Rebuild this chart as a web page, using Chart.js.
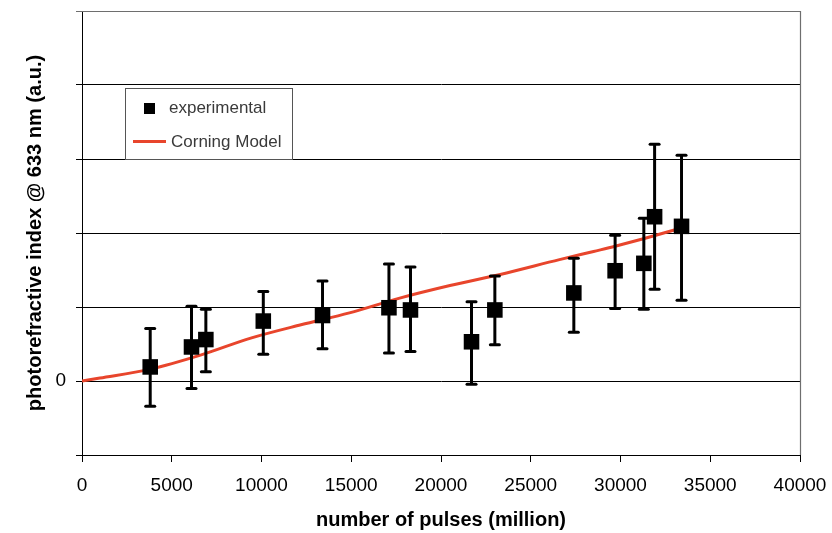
<!DOCTYPE html>
<html>
<head>
<meta charset="utf-8">
<script src="https://cdn.jsdelivr.net/npm/chart.js@4/dist/chart.umd.min.js"></script>
<style>
  html, body { margin: 0; padding: 0; background: #ffffff; }
  #wrap { width: 832px; height: 533px; position: relative; }
</style>
</head>
<body>
<div id="wrap"><canvas id="c" width="832" height="533"></canvas></div>
<script>
// ---- data ----
const pulses     = [3800, 6100, 6900, 10100, 13400, 17100, 18300, 21700, 23000, 27400, 29700, 31300, 31900, 33400];
const indexVals  = [0.19, 0.46, 0.56, 0.81, 0.885, 0.99, 0.96, 0.53, 0.96, 1.19, 1.49, 1.59, 2.22, 2.09];
const errTop     = [0.71, 1.01, 0.97, 1.21, 1.35, 1.58, 1.54, 1.07, 1.42, 1.66, 1.97, 2.20, 3.20, 3.05];
const errBottom  = [-0.34, -0.10, 0.125, 0.36, 0.435, 0.38, 0.40, -0.045, 0.49, 0.66, 0.98, 0.97, 1.24, 1.09];

const modelPulses = [0, 1000, 3800, 6600, 9400, 12200, 14900, 17700, 20500, 23300, 26600, 28500, 29700, 33000, 33400];
const modelVals   = [0, 0.04, 0.16, 0.35, 0.58, 0.76, 0.92, 1.12, 1.29, 1.44, 1.64, 1.75, 1.82, 2.04, 2.07];

const xTicks = [0, 5000, 10000, 15000, 20000, 25000, 30000, 35000, 40000];
const yLabelled = [0];

const seriesNames = ['experimental', 'Corning Model'];
const FONT = "'Liberation Sans', Arial, Helvetica, sans-serif";
const RED = '#e8452c';

const expData = pulses.map((x, i) => ({x: x, y: indexVals[i]}));
const modelData = modelPulses.map((x, i) => ({x: x, y: modelVals[i]}));

const errorBarPlugin = {
  id: 'errorBars',
  afterDatasetDraw(chart, args) {
    if (args.index !== 1) return; // after the model line, before the squares
    const xs = chart.scales.x, ys = chart.scales.y, ctx = chart.ctx;
    ctx.save();
    ctx.strokeStyle = '#000';
    ctx.lineWidth = 3;
    pulses.forEach((p, i) => {
      const px = xs.getPixelForValue(p);
      const pt = ys.getPixelForValue(errTop[i]);
      const pb = ys.getPixelForValue(errBottom[i]);
      ctx.lineCap = 'butt';
      ctx.beginPath(); ctx.moveTo(px, pt); ctx.lineTo(px, pb); ctx.stroke();
      ctx.lineCap = 'round';
      [pt, pb].forEach(py => {
        ctx.beginPath(); ctx.moveTo(px - 4.5, py); ctx.lineTo(px + 4.5, py); ctx.stroke();
      });
    });
    ctx.restore();
  }
};

const frameLegendPlugin = {
  id: 'frameLegend',
  afterDraw(chart) {
    const ctx = chart.ctx, a = chart.chartArea;
    ctx.save();
    // right & top frame
    ctx.strokeStyle = '#6e6e6e';
    ctx.lineWidth = 1.2;
    ctx.beginPath();
    ctx.moveTo(a.left, a.top + 0.5); ctx.lineTo(a.right + 0.5, a.top + 0.5); ctx.lineTo(a.right + 0.5, a.bottom);
    ctx.stroke();
    // legend box
    const lx = 125, ly = 88, lw = 167, lh = 71;
    ctx.fillStyle = '#ffffff';
    ctx.fillRect(lx, ly, lw, lh);
    ctx.strokeStyle = '#555';
    ctx.lineWidth = 1;
    ctx.strokeRect(lx + 0.5, ly + 0.5, lw, lh);
    // experimental
    ctx.fillStyle = '#000';
    ctx.fillRect(144, 103, 11, 11);
    ctx.fillStyle = '#3a3a3a';
    ctx.font = '17px ' + FONT;
    ctx.textBaseline = 'middle';
    ctx.textAlign = 'left';
    ctx.fillText(seriesNames[0], 169, 108);
    // model
    ctx.strokeStyle = RED;
    ctx.lineWidth = 3;
    ctx.beginPath(); ctx.moveTo(133, 141.5); ctx.lineTo(166, 141.5); ctx.stroke();
    ctx.fillText(seriesNames[1], 171, 142);
    ctx.restore();
  }
};

new Chart(document.getElementById('c'), {
  data: {
    datasets: [
      {
        type: 'scatter',
        label: seriesNames[0],
        data: expData,
        pointStyle: 'rect',
        pointRadius: 11,
        pointHoverRadius: 11,
        backgroundColor: '#000',
        borderColor: '#000',
        borderWidth: 0,
        order: 0
      },
      {
        type: 'line',
        label: seriesNames[1],
        data: modelData,
        borderColor: RED,
        borderWidth: 3,
        pointRadius: 0,
        cubicInterpolationMode: 'monotone',
        fill: false,
        order: 1
      }
    ]
  },
  options: {
    responsive: false,
    animation: false,
    events: [],
    layout: { padding: { left: 0, right: 32, top: 10, bottom: 0 } },
    plugins: { legend: { display: false }, tooltip: { enabled: false } },
    scales: {
      x: {
        type: 'linear',
        min: 0, max: 40000,
        afterBuildTicks(s) { s.ticks = xTicks.map(v => ({value: v})); },
        afterFit(s) { s.height = 78; s.paddingLeft = 0; s.paddingRight = 0; },
        grid: { drawOnChartArea: false, drawTicks: true, tickLength: 7, color: '#000', lineWidth: 1 },
        border: { color: '#000', width: 1 },
        ticks: { color: '#000', font: { family: FONT, size: 19 }, padding: 12, maxRotation: 0,
                 callback: v => String(v) },
        title: { display: true, text: 'number of pulses (million)', color: '#000',
                 font: { family: FONT, size: 20, weight: 'bold' }, padding: { top: 0, bottom: 1 } }
      },
      y: {
        type: 'linear',
        min: -1, max: 5,
        ticks: {
          stepSize: 1, color: '#000', font: { family: FONT, size: 19 }, padding: 10,
          callback: v => (yLabelled.includes(v) ? String(v) : '')
        },
        afterFit(s) { s.width = 82; s.paddingTop = 0; s.paddingBottom = 0; },
        grid: {
          drawOnChartArea: true, drawTicks: true, tickLength: 6, lineWidth: 1,
          color: c => (c.tick && c.tick.value === 5 ? '#6e6e6e' : '#000')
        },
        border: { color: '#000', width: 1 },
        title: { display: true, text: 'photorefractive index @ 633 nm (a.u.)', color: '#000',
                 font: { family: FONT, size: 20, weight: 'bold' }, padding: { top: 23, bottom: 0 } }
      }
    }
  },
  plugins: [errorBarPlugin, frameLegendPlugin]
});
</script>
</body>
</html>
